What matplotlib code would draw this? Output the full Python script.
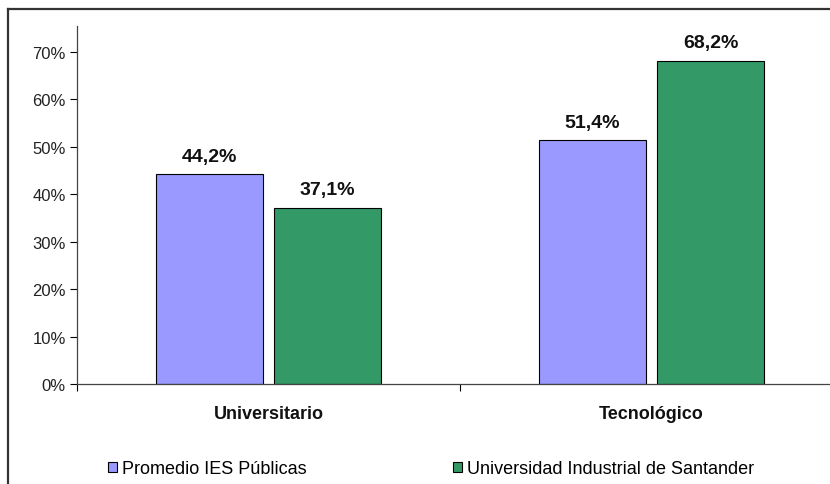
import matplotlib
import matplotlib.pyplot as plt
import numpy as np
from matplotlib.lines import Line2D
from matplotlib.patches import Patch

matplotlib.use('Agg')

categorias = ["Universitario", "Tecnológico"]
promedio_ies = [44.2, 51.4]
uis = [37.1, 68.2]
series = ["Promedio IES Públicas", "Universidad Industrial de Santander"]
colores = ["#9999FF", "#339966"]

plt.rcParams['font.family'] = ['Liberation Sans', 'DejaVu Sans']

W, H = 830, 485
fig = plt.figure(figsize=(W / 100, H / 100), dpi=100)

# marco exterior (recortado por la imagen)
fig.add_artist(Line2D([8 / W, 8 / W], [0, 1 - 10 / H], transform=fig.transFigure,
                      color="#333333", lw=1.6))
fig.add_artist(Line2D([8 / W, 1], [1 - 10 / H, 1 - 10 / H], transform=fig.transFigure,
                      color="#333333", lw=1.6))

ax = fig.add_axes([77 / W, 100 / H, (843 - 77) / W, (385 - 27) / H])

x = np.arange(len(categorias))
ancho = 0.28
desp = ancho / 2 + 0.014
b1 = ax.bar(x - desp, promedio_ies, ancho, color=colores[0], edgecolor="black", linewidth=0.8)
b2 = ax.bar(x + desp, uis, ancho, color=colores[1], edgecolor="black", linewidth=0.8)

for barras in (b1, b2):
    ax.bar_label(barras, labels=[f"{v:.1f}%".replace(".", ",") for v in barras.datavalues],
                 padding=7, fontsize=14, fontweight="bold", color="#111111")

ax.set_xlim(-0.5, 1.5)
ax.set_ylim(0, 75.5)
ax.set_yticks(np.arange(0, 71, 10))
ax.set_yticklabels([f"{int(v)}%" for v in np.arange(0, 71, 10)], fontsize=12, color="#222222")
ax.tick_params(axis="y", length=5, width=0.8, pad=3)

ax.set_xticks(x)
ax.set_xticklabels(categorias, fontsize=13, fontweight="bold", color="#111111")
ax.tick_params(axis="x", which="major", length=0, pad=15)
ax.set_xticks([-0.5, 0.5, 1.5], minor=True)
ax.tick_params(axis="x", which="minor", length=5, width=0.8)

for s in ("top", "right"):
    ax.spines[s].set_visible(False)
for s in ("left", "bottom"):
    ax.spines[s].set_color("#444444")
    ax.spines[s].set_linewidth(0.9)

handles = [Patch(facecolor=c, edgecolor="black", linewidth=0.8) for c in colores]
fig.legend(handles, series, loc="center left", bbox_to_anchor=(108 / W, 1 - 470 / H),
           ncol=2, frameon=False, fontsize=13, handlelength=0.5, handleheight=0.5,
           handletextpad=0.25, columnspacing=8.15, borderaxespad=0, borderpad=0)

fig.savefig("out.png", dpi=100)
